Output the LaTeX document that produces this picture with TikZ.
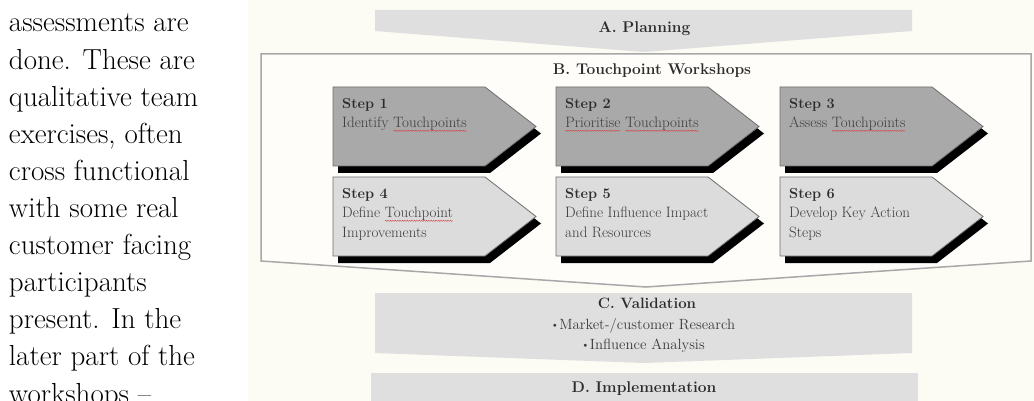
\documentclass[tikz,border=0pt]{standalone}
\usepackage{fontspec}
\usetikzlibrary{decorations.pathmorphing}

\definecolor{paper}{HTML}{FCFBF4}
\definecolor{band}{HTML}{DFDFDF}
\definecolor{stepdark}{HTML}{A9A9A9}
\definecolor{steplight}{HTML}{DCDCDC}
\definecolor{edge}{HTML}{6E6E6E}
\definecolor{framegray}{HTML}{A8A8A8}
\definecolor{ink}{HTML}{2C2C2C}
\definecolor{softink}{HTML}{3C3C3C}
\definecolor{spell}{HTML}{D04848}

% word with a red wavy underline
\newcommand\squig[1]{\tikz[baseline=(sq.base),x=1pt,y=1pt]{%
  \node[inner sep=0pt,outer sep=0pt] (sq) {#1};
  \draw[spell,line width=0.45pt,decorate,
        decoration={snake,amplitude=0.55pt,segment length=2.4pt}]
    ([yshift=-2.8pt]sq.base west) -- ([yshift=-2.8pt]sq.base east);}}
% small centred bullet
\newcommand\bul{\raisebox{0.25ex}{$\scriptscriptstyle\bullet$}\,}

\tikzset{
  bodytext/.style={font=\fontsize{29}{35}\selectfont, text=black,
    inner sep=0pt, outer sep=0pt, anchor=base west},
  heading/.style={font=\bfseries\fontsize{15.5}{18}\selectfont, text=ink,
    inner sep=0pt, anchor=base},
  subheading/.style={font=\bfseries\fontsize{15}{18}\selectfont, text=ink,
    inner sep=0pt, anchor=base},
  bandtext/.style={font=\fontsize{14.8}{18}\selectfont, text=softink,
    inner sep=0pt, anchor=base},
  stepframe/.style={minimum width=203pt, minimum height=79pt,
    inner sep=0pt, outer sep=0pt, draw=none, anchor=north west},
  steptitle/.style={font=\bfseries\fontsize{14.5}{17}\selectfont, text=ink,
    inner sep=0pt, anchor=base west},
  stepline/.style={font=\fontsize{15}{18}\selectfont, text=softink,
    inner sep=0pt, anchor=base west},
}

% arrow-shaped step box with black drop shadow and its text
% #1 name, #2 x, #3 y, #4 fill, #5 title, #6 first line, #7 second line
\newcommand\stepbox[7]{%
  \node[stepframe] (#1) at (#2,#3) {};
  \fill[black] ([shift={(5pt,-7pt)}]#1.north west)
    -- ([shift={(-46pt,-7pt)}]#1.north east)
    -- ([shift={(5pt,-7pt)}]#1.east)
    -- ([shift={(-46pt,-7pt)}]#1.south east)
    -- ([shift={(5pt,-7pt)}]#1.south west) -- cycle;
  \filldraw[fill=#4, draw=edge, line width=0.8pt] (#1.north west)
    -- ([xshift=-51pt]#1.north east) -- (#1.east)
    -- ([xshift=-51pt]#1.south east) -- (#1.south west) -- cycle;
  \node[steptitle] (#1-title) at ([shift={(9pt,-22pt)}]#1.north west) {#5};
  \node[stepline] (#1-a) at ([shift={(9pt,-41pt)}]#1.north west) {#6};
  \node[stepline] (#1-b) at ([shift={(9pt,-60pt)}]#1.north west) {#7};
}

\begin{document}
\begin{tikzpicture}[x=1pt,y=-1pt]
\clip (0,0) rectangle (1034,401);
\fill[white] (0,0) rectangle (248,401);
\fill[paper] (248,0) rectangle (1034,401);

% running text column
\foreach \t [count=\i] in {assessments are, done. These are, qualitative team,
    {exercises, often}, cross functional, with some real, customer facing,
    participants, present. In the, later part of the, workshops –}
  \node[bodytext] (line\i) at (9,{32+37.1*(\i-1)}) {\t};

% A. Planning
\fill[band] (375,10) -- (912,10) -- (912,31) -- (644,52) -- (375,31) -- cycle;
\node[heading] (planning) at (644.5,33) {A. Planning};

% B. Touchpoint Workshops frame
\filldraw[fill=paper!50!white, draw=framegray, line width=1.5pt]
  (261,54) -- (1031,54) -- (1031,261) -- (646,287) -- (261,261) -- cycle;
\node[heading] (workshops) at (652,75) {B. Touchpoint Workshops};

\stepbox{s1}{333}{87}{stepdark}{Step 1}{Identify \squig{Touchpoints}}{}
\stepbox{s2}{556}{87}{stepdark}{Step 2}{\squig{Prioritise} \squig{Touchpoints}}{}
\stepbox{s3}{780}{87}{stepdark}{Step 3}{Assess \squig{Touchpoints}}{}
\stepbox{s4}{333}{177}{steplight}{Step 4}{Define \squig{Touchpoint}}{Improvements}
\stepbox{s5}{556}{177}{steplight}{Step 5}{Define Influence Impact}{and Resources}
\stepbox{s6}{780}{177}{steplight}{Step 6}{Develop Key Action}{Steps}

% C. Validation
\fill[band] (375,293) -- (912,293) -- (912,353) -- (644,363) -- (375,353) -- cycle;
\node[subheading] (validation) at (647,308) {C. Validation};
\node[bandtext] (research) at (644,329) {\bul Market-/customer Research};
\node[bandtext] (influence) at (644,349) {\bul Influence Analysis};

% D. Implementation
\fill[band] (371,373) rectangle (918,410);
\node[heading] (implementation) at (644,392) {D. Implementation};
\end{tikzpicture}
\end{document}
